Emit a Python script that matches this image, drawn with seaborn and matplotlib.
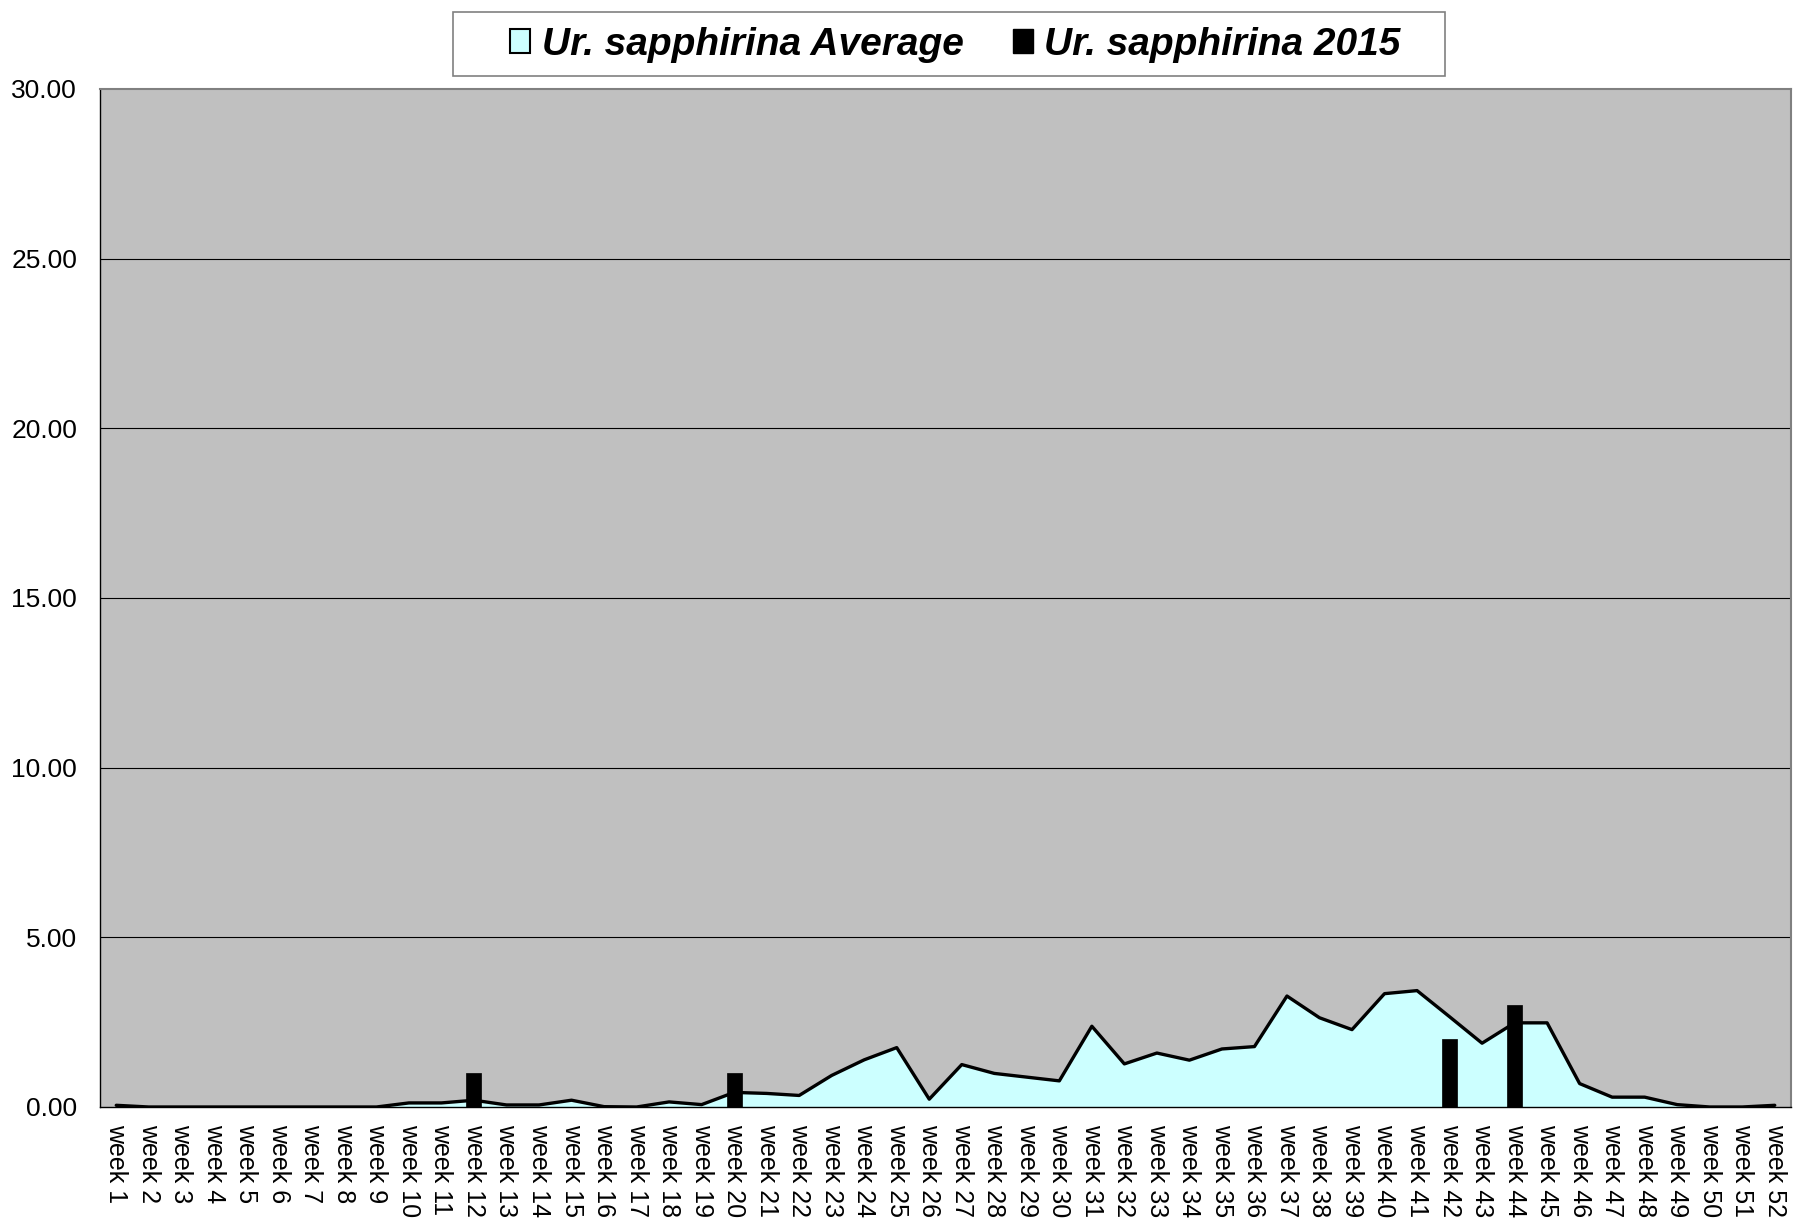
import matplotlib
matplotlib.use("Agg")
import matplotlib.pyplot as plt
from matplotlib.patches import Patch, Rectangle
from matplotlib.ticker import FixedLocator, FormatStrFormatter
import numpy as np
import pandas as pd
import seaborn as sns

# Weekly catches of Ur. sapphirina
weeks = [f"week {i}" for i in range(1, 53)]

avg_values = [0.05, 0, 0, 0, 0, 0, 0, 0, 0,
              0.12, 0.12, 0.20, 0.06, 0.06, 0.20, 0.01, 0, 0.15, 0.07,
              0.43, 0.40, 0.34, 0.93, 1.39, 1.75, 0.23, 1.25, 0.99, 0.88, 0.77,
              2.38, 1.27, 1.59, 1.38, 1.71, 1.78, 3.27, 2.63, 2.28, 3.34, 3.43,
              2.66, 1.88, 2.48, 2.48, 0.69, 0.29, 0.29, 0.07, 0, 0, 0.05]

y2015_values = [0] * 52
y2015_values[11] = 1   # week 12
y2015_values[19] = 1   # week 20
y2015_values[41] = 2   # week 42
y2015_values[43] = 3   # week 44

y_ticks = [0, 5, 10, 15, 20, 25, 30]
label_avg = "Ur. sapphirina Average"
label_2015 = "Ur. sapphirina 2015"

df = pd.DataFrame({"week": weeks, "pos": np.arange(52),
                   "avg": avg_values, "y2015": y2015_values})

sns.set_style("white")
plt.rcParams["font.family"] = ["Liberation Sans", "DejaVu Sans"]
for key in ("text.color", "xtick.color", "ytick.color", "axes.labelcolor"):
    plt.rcParams[key] = "black"

fig = plt.figure(figsize=(17.96, 12.25), dpi=100)
ax = fig.add_axes([0.05568, 0.09633, 0.94154, 0.83102])
ax.set_facecolor("#C0C0C0")

# Average: light cyan area with black outline
ax.fill_between(df["pos"], df["avg"], 0, color="#CCFFFF", zorder=2, linewidth=0)
sns.lineplot(data=df, x="pos", y="avg", color="black", linewidth=2.4,
             ax=ax, zorder=3)

# 2015: black bars
sns.barplot(data=df, x="pos", y="y2015", color="black", width=0.46,
            native_scale=True, ax=ax, zorder=4, saturation=1,
            edgecolor="black", linewidth=0.5)

ax.set_xlim(-0.5, 51.5)
ax.set_ylim(0, 30)

# horizontal grid
for y in y_ticks[1:-1]:
    ax.axhline(y, color="black", linewidth=0.8, zorder=1)

ax.yaxis.set_major_locator(FixedLocator(y_ticks))
ax.yaxis.set_major_formatter(FormatStrFormatter("%.2f"))
ax.tick_params(axis="y", which="major", direction="inout", length=11,
               width=0.8, color="black", labelsize=19, pad=11)

# category labels at centres, tick marks between categories
ax.set_xticks(np.arange(52))
ax.set_xticklabels(weeks, rotation=270, fontsize=18, va="top", ha="center")
ax.set_xticks(np.arange(53) - 0.5, minor=True)
ax.tick_params(axis="x", which="major", length=0, pad=12.5)
ax.tick_params(axis="x", which="minor", direction="inout", length=11,
               width=0.8, color="black")

ax.set_xlabel("")
ax.set_ylabel("")

for side in ("left", "bottom"):
    ax.spines[side].set_color("black")
    ax.spines[side].set_linewidth(1.0)
for side in ("top", "right"):
    ax.spines[side].set_color("#808080")
    ax.spines[side].set_linewidth(1.5)
for s in ax.spines.values():
    s.set_visible(True)
    s.set_zorder(5)

# legend
handles = [Patch(facecolor="#CCFFFF", edgecolor="black", linewidth=1.5),
           Patch(facecolor="black", edgecolor="black")]
fig.legend(handles, [label_avg, label_2015], loc="center",
           bbox_to_anchor=(0.5320, 0.9635), ncol=2, frameon=False,
           prop={"size": 28, "weight": "bold", "style": "italic"},
           handlelength=0.52, handleheight=0.6, handletextpad=0.3,
           columnspacing=1.25, borderpad=0)
fig.patches.append(Rectangle((0.2522, 0.9380), 0.5523, 0.0522,
                             transform=fig.transFigure, facecolor="none",
                             edgecolor="#808080", linewidth=1.2))

fig.savefig("out.png", dpi=100)
